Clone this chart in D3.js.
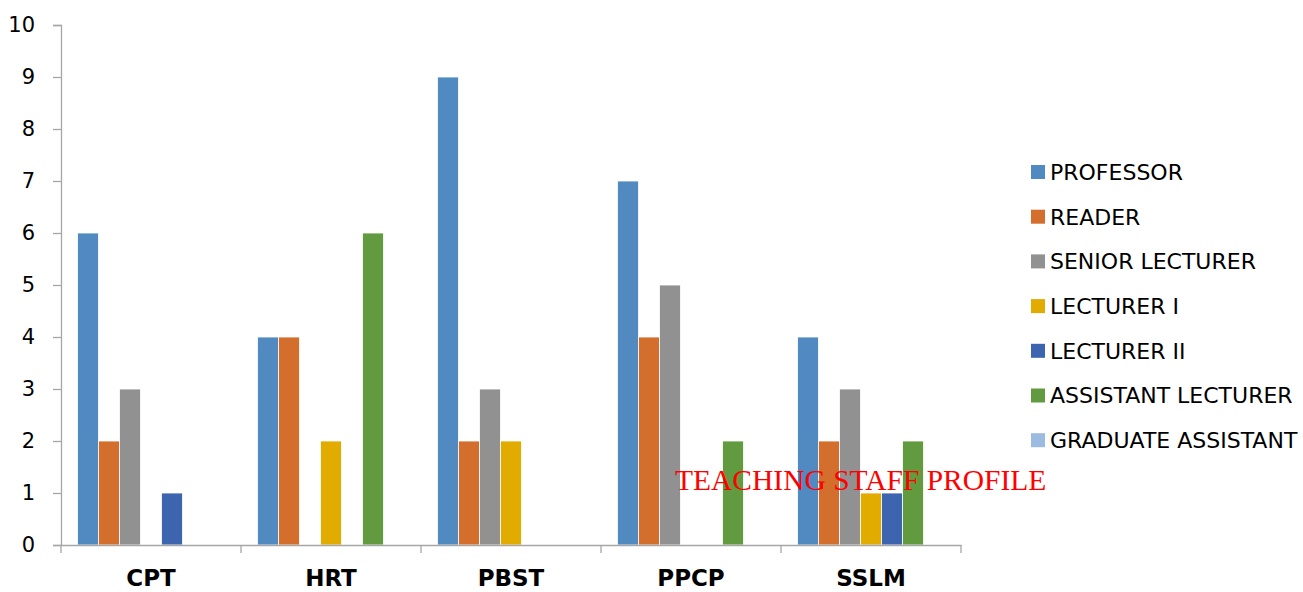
<!DOCTYPE html>
<html>
<head>
<meta charset="utf-8">
<script src="https://cdn.jsdelivr.net/npm/d3@7"></script>
<style>
  html, body { margin: 0; padding: 0; background: #fff; }
  svg { display: block; }
</style>
</head>
<body>
<svg id="chart" width="1303" height="592"></svg>
<script>
const categories = ["CPT", "HRT", "PBST", "PPCP", "SSLM"];
const seriesNames = ["PROFESSOR", "READER", "SENIOR LECTURER", "LECTURER I", "LECTURER II", "ASSISTANT LECTURER", "GRADUATE ASSISTANT"];
const professor = [6, 4, 9, 7, 4];
const reader = [2, 4, 2, 4, 2];
const seniorLecturer = [3, 0, 3, 5, 3];
const lecturerI = [0, 2, 2, 0, 1];
const lecturerII = [1, 0, 0, 0, 1];
const assistantLecturer = [0, 6, 0, 2, 2];
const graduateAssistant = [0, 0, 0, 0, 0];
const yTicks = [0, 1, 2, 3, 4, 5, 6, 7, 8, 9, 10];
const colors = ["#508AC0", "#D46E2C", "#919191", "#E1AB00", "#3C64AF", "#629A3F", "#9BBBE0"];
const chartTitle = "TEACHING STAFF PROFILE";

const seriesValues = [professor, reader, seniorLecturer, lecturerI, lecturerII, assistantLecturer, graduateAssistant];

(function () {
const svg = d3.select("#chart");
const mLeft = 61, mRight = 961, mTop = 25, mBottom = 545;

const x0 = d3.scaleBand().domain(categories).range([mLeft, mRight]).padding(0);
const x1 = d3.scaleBand().domain(seriesNames).range([16.5, x0.bandwidth() - 16.5]).padding(0);
const y = d3.scaleLinear().domain([0, 10]).range([mBottom, mTop]);

// bars
const groups = svg.append("g").selectAll("g")
  .data(categories)
  .join("g")
  .attr("transform", d => `translate(${x0(d)},0)`);

groups.selectAll("rect")
  .data((c, ci) => seriesNames.map((s, si) => ({ s, si, v: seriesValues[si][ci] })).filter(d => d.v > 0))
  .join("rect")
  .attr("x", d => x1(d.s))
  .attr("width", x1.bandwidth())
  .attr("y", d => y(d.v))
  .attr("height", d => y(0) - y(d.v))
  .attr("fill", d => colors[d.si])
  .attr("stroke", "#fff")
  .attr("stroke-width", 0.8);

// y axis
const yAxis = svg.append("g")
  .attr("transform", `translate(${mLeft},0)`)
  .call(d3.axisLeft(y).tickValues(yTicks).tickSize(8).tickPadding(18).tickFormat(d3.format("d")));
yAxis.select(".domain").attr("stroke", "#A6A6A6").attr("stroke-width", 1.3);
yAxis.selectAll(".tick line").attr("stroke", "#A6A6A6").attr("stroke-width", 1.3);
yAxis.selectAll(".tick text")
  .attr("font-family", "DejaVu Sans, sans-serif")
  .attr("font-size", 21)
  .attr("fill", "#000");

// x axis
const xAxis = svg.append("g")
  .attr("transform", `translate(0,${mBottom})`)
  .call(d3.axisBottom(x0).tickSize(0).tickPadding(25).tickSizeOuter(0));
xAxis.select(".domain").attr("stroke", "#A6A6A6").attr("stroke-width", 1.3);
xAxis.selectAll(".tick text")
  .attr("font-family", "DejaVu Sans, sans-serif")
  .attr("font-size", 23)
  .attr("font-weight", "bold")
  .attr("fill", "#000");
const boundaries = categories.map(c => x0(c)).concat([x0(categories[categories.length - 1]) + x0.bandwidth()]);
xAxis.selectAll("line.boundary")
  .data(boundaries)
  .join("line")
  .attr("class", "boundary")
  .attr("x1", d => d).attr("x2", d => d)
  .attr("y1", 0).attr("y2", 8)
  .attr("stroke", "#A6A6A6").attr("stroke-width", 1.3);

// legend
const legend = svg.append("g").attr("transform", "translate(1031,172)");
const items = legend.selectAll("g")
  .data(seriesNames)
  .join("g")
  .attr("transform", (d, i) => `translate(0,${i * 44.7})`);
items.append("rect")
  .attr("x", 0).attr("y", -7)
  .attr("width", 14).attr("height", 14)
  .attr("fill", (d, i) => colors[i]);
items.append("text")
  .attr("x", 19).attr("y", 0)
  .attr("dy", "0.36em")
  .attr("font-family", "DejaVu Sans, sans-serif")
  .attr("font-size", 22)
  .attr("fill", "#000")
  .text(d => d);

// title overlay
svg.append("text")
  .attr("x", 675).attr("y", 490)
  .attr("font-family", "Liberation Serif, Times New Roman, serif")
  .attr("font-size", 29.5)
  .attr("fill", "#FF0000")
  .text(chartTitle);
})();
</script>
</body>
</html>
